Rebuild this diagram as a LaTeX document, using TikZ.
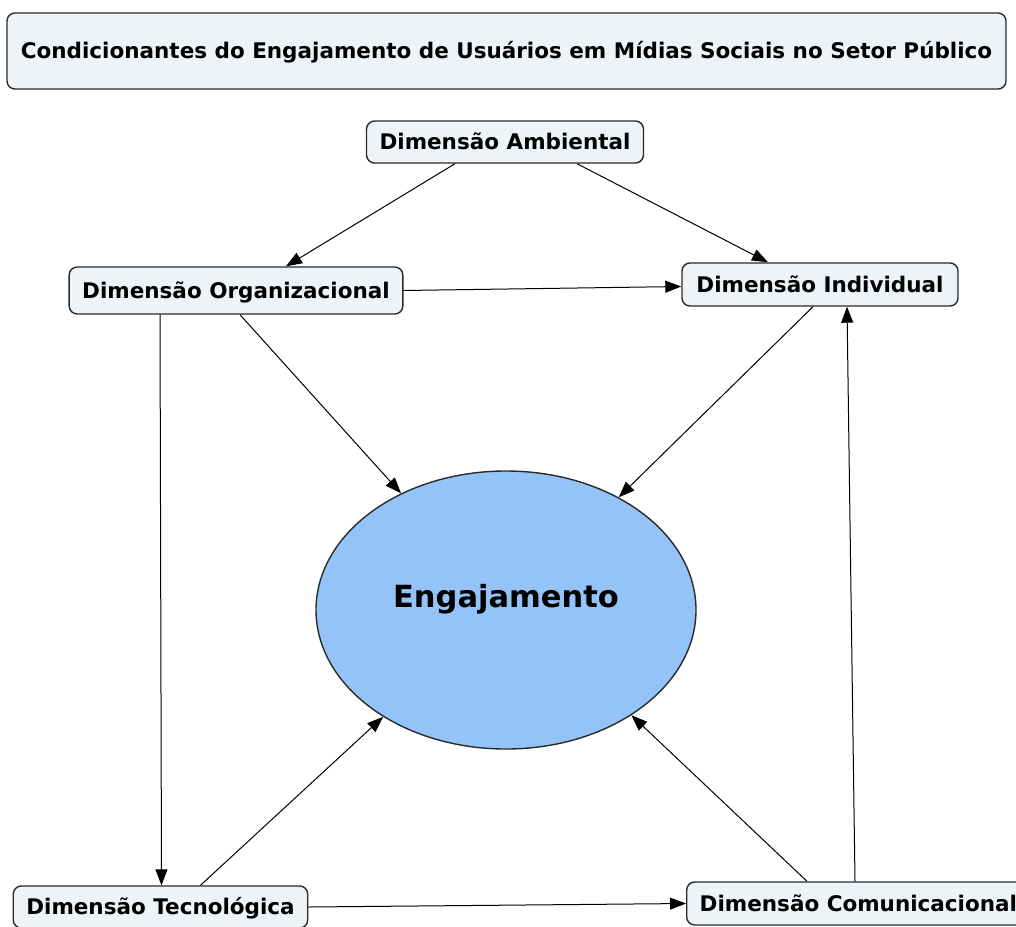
\documentclass[tikz,border=0pt]{standalone}
\usepackage{fontspec}
\setmainfont{DejaVu Sans}
\usetikzlibrary{shapes.geometric,arrows.meta}
\definecolor{boxfill}{HTML}{EDF3F6}
\definecolor{engfill}{HTML}{94C4F7}
\definecolor{boxline}{HTML}{2A2A2A}

\begin{document}
\begin{tikzpicture}[x=1pt,y=-1pt,
    dimbox/.style={draw=boxline,line width=1.4pt,fill=boxfill,rounded corners=8pt,
      font=\fontsize{21.5}{26}\selectfont\bfseries,inner xsep=13pt,inner ysep=0pt,
      text height=15.5pt,text depth=0pt},
    arr/.style={line width=1pt,-{Triangle[length=16pt,width=12pt]}}]
  \useasboundingbox (0,0) rectangle (1016,926);
  % title
  \node[dimbox,minimum width=999pt,minimum height=76pt,font=\fontsize{21.5}{26}\selectfont\bfseries] (title) at (506.5,51) {Condicionantes do Engajamento de Usuários em Mídias Sociais no Setor Público};
  % dimensions
  \node[dimbox,minimum width=276pt,minimum height=42pt] (amb) at (505,142) {Dimensão Ambiental};
  \node[dimbox,minimum width=332pt,minimum height=47pt] (org) at (236,290.5) {Dimensão Organizacional};
  \node[dimbox,minimum width=276pt,minimum height=43pt] (ind) at (820,284.5) {Dimensão Individual};
  \node[dimbox,minimum width=293pt,minimum height=42pt] (tec) at (160.5,907) {Dimensão Tecnológica};
  \node[dimbox,minimum height=43pt,anchor=west] (com) at (686,903.5) {Dimensão Comunicacional};
  % centre
  \node[ellipse,draw=boxline,line width=1.4pt,fill=engfill,minimum width=380pt,minimum height=278pt,inner sep=0pt] (eng) at (506,610) {};
  \node[font=\fontsize{30.5}{36}\selectfont\bfseries,inner sep=0pt,text height=22.3pt,text depth=0pt] (engtext) at ([yshift=14pt]eng.center) {Engajamento};
  % connectors
  \draw[arr] ([xshift=-50pt]amb.south) -- ([xshift=50pt]org.north);
  \draw[arr] ([xshift=72pt]amb.south) -- ([xshift=-52pt]ind.north);
  \draw[arr] (org.east) -- ([yshift=-2pt]ind.west);
  \draw[arr] ([xshift=-76pt]org.south) -- ([xshift=1pt]tec.north);
  \draw[arr] ([xshift=4pt]org.south) -- (eng.132);
  \draw[arr] ([xshift=-7pt]ind.south) -- (eng.45.5);
  \draw[arr] ([xshift=40pt]tec.north) -- (eng.221);
  \draw[arr] (tec.east) -- (com.west);
  \draw[arr] ([xshift=121pt]com.north west) -- (eng.320.5);
  \draw[arr] ([xshift=169pt]com.north west) -- ([xshift=27pt]ind.south);
\end{tikzpicture}
\end{document}
